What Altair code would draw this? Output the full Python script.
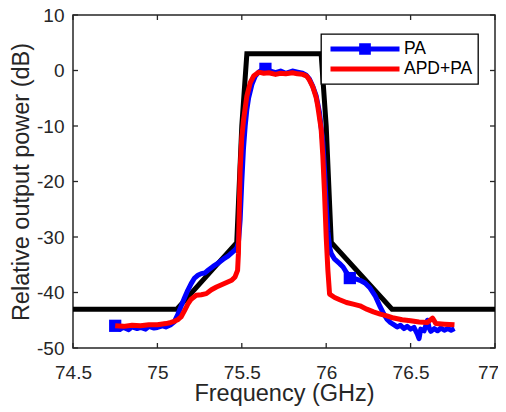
import altair as alt
import pandas as pd

# ---------------- data ----------------
series_names = ["PA", "APD+PA"]
series_colors = ["#0000FF", "#FF0000"]

x_ticks = [74.5, 75, 75.5, 76, 76.5, 77]
y_ticks = [-50, -40, -30, -20, -10, 0, 10]

mask_f = [74.5, 75.115, 75.47, 75.5, 75.53, 75.97, 76.0, 76.03, 76.39, 77.0]
mask_db = [-43, -43, -31, -10, 3, 3, -10, -31, -43, -43]

pa_f = [74.75, 74.78, 74.8, 74.83, 74.85, 74.88, 74.9, 74.93, 74.95, 74.98, 75.0, 75.03,
        75.05, 75.08, 75.1, 75.12, 75.14, 75.16, 75.18, 75.2, 75.22, 75.24, 75.26, 75.28,
        75.3, 75.33, 75.36, 75.39, 75.42, 75.45, 75.47, 75.48, 75.49, 75.5, 75.51, 75.52,
        75.53, 75.54, 75.56, 75.58, 75.6, 75.63, 75.66, 75.7, 75.73, 75.76, 75.8, 75.83,
        75.86, 75.88, 75.9, 75.92, 75.94, 75.96, 75.98, 75.99, 76.0, 76.01, 76.02, 76.03,
        76.05, 76.08, 76.1, 76.12, 76.14, 76.17, 76.2, 76.23, 76.26, 76.29, 76.32, 76.34,
        76.36, 76.38, 76.4, 76.42, 76.44, 76.46, 76.48, 76.5, 76.52, 76.54, 76.55, 76.56,
        76.58, 76.6, 76.61, 76.62, 76.64, 76.66, 76.68, 76.7, 76.72, 76.74, 76.76]
pa_db = [-46.2, -46.6, -46.3, -46.7, -46.2, -46.5, -46.3, -46.6, -46.1, -46.4, -46.3, -46.0,
         -46.2, -45.8, -45.3, -44.0, -42.5, -41.0, -39.6, -38.4, -37.4, -36.9, -36.6, -36.5,
         -36.0, -35.3, -34.7, -34.0, -33.4, -32.6, -32.0, -31.0, -27.0, -20.0, -14.0, -10.0,
         -7.0, -5.0, -2.5, -1.0, -0.3, 0.3, 0.0, -0.4, -0.1, -0.5, -0.1, -0.3,
         -0.5, -0.8, -1.5, -2.8, -4.5, -7.5, -13.0, -18.0, -24.0, -29.0, -31.8, -33.0,
         -34.0, -34.8, -35.4, -36.4, -37.3, -37.5, -37.8, -38.3, -39.2, -40.6, -42.6, -43.8,
         -44.8, -45.4, -45.8, -46.2, -45.9, -46.5, -46.1, -46.6, -46.3, -47.5, -48.3, -46.6,
         -46.9, -45.0, -46.4, -47.0, -46.5, -46.9, -46.4, -46.8, -46.5, -46.8, -46.5]

apd_f = [74.75, 74.8, 74.85, 74.9, 74.95, 75.0, 75.05, 75.08, 75.1, 75.12, 75.14, 75.16,
         75.18, 75.2, 75.23, 75.26, 75.29, 75.32, 75.35, 75.38, 75.41, 75.44, 75.46, 75.475,
         75.48, 75.485, 75.49, 75.5, 75.51, 75.53, 75.55, 75.57, 75.6, 75.63, 75.66, 75.7,
         75.73, 75.76, 75.8, 75.83, 75.86, 75.885, 75.9, 75.92, 75.94, 75.95, 75.97, 75.98,
         75.99, 76.0, 76.01, 76.02, 76.05, 76.08, 76.12, 76.16, 76.2, 76.24, 76.28, 76.32,
         76.36, 76.4, 76.45, 76.5, 76.55, 76.6, 76.63, 76.65, 76.7, 76.76]
apd_db = [-46.0, -46.1, -45.9, -46.0, -45.8, -45.8, -45.6, -45.4, -45.2, -44.9, -44.4, -43.3,
          -42.1, -41.2, -40.5, -40.4, -40.2, -39.5, -39.0, -38.6, -38.2, -37.8, -37.2, -36.0,
          -33.0, -25.0, -18.0, -12.0, -9.0, -4.6, -2.2, -1.0, -0.3, -0.5, -0.4, -0.7,
          -0.5, -0.6, -0.4, -0.6, -0.7, -1.0, -1.7, -2.9, -4.8, -6.4, -10.5, -15.4,
          -22.0, -30.0, -36.0, -40.3, -40.9, -41.3, -41.8, -42.1, -42.4, -43.0, -43.5, -43.9,
          -44.2, -44.6, -44.9, -45.1, -45.3, -45.4, -44.6, -45.6, -45.7, -45.8]

marker_f = [74.75, 75.64, 76.14]
marker_db = [-46.0, 0.3, -37.4]

# ---------------- tables ----------------
mask_df = pd.DataFrame({"f": mask_f, "db": mask_db})
pa_df = pd.DataFrame({"f": pa_f, "db": pa_db, "series": series_names[0]})
apd_df = pd.DataFrame({"f": apd_f, "db": apd_db, "series": series_names[1]})
mk_df = pd.DataFrame({"f": marker_f, "db": marker_db, "series": series_names[0]})
xt_df = pd.DataFrame({"v": x_ticks})
yt_df = pd.DataFrame({"v": y_ticks})

W, H = 422, 333
FONT = "Liberation Sans"
AX = "#262626"

xs = alt.Scale(domain=[74.5, 77], nice=False, zero=False)
ys = alt.Scale(domain=[-50, 10], nice=False, zero=False)
cs = alt.Scale(domain=series_names, range=series_colors)

pa_path = "M-1.03,0H1.03M-0.1,-0.1H0.1V0.1H-0.1Z"
line_path = "M-1.03,0H1.03"
ss = alt.Scale(domain=series_names, range=[pa_path, line_path])

x_axis = alt.Axis(values=x_ticks, labelExpr="'' + datum.value", ticks=False, tickSize=0,
                  domain=False, grid=False, labelFontSize=19, labelPadding=15,
                  labelColor=AX, labelFont=FONT, labelOverlap=False, labelFlush=False,
                  labelBound=False,
                  labelOffset={"condition": {"test": "datum.value == 77", "value": -7}, "value": 0},
                  title="Frequency (GHz)", titleFontSize=23.5, titleFontWeight="normal",
                  titleColor=AX, titleFont=FONT, titleX=W / 2, titleY=52.7,
                  titleBaseline="alphabetic", titleAlign="center")
y_axis = alt.Axis(values=y_ticks, labelExpr="'' + datum.value", ticks=False, tickSize=0,
                  domain=False, grid=False, labelFontSize=19, labelPadding=9,
                  labelColor=AX, labelFont=FONT, labelOverlap=False, labelFlush=False,
                  labelBound=False,
                  title="Relative output power (dB)", titleFontSize=23.5,
                  titleFontWeight="normal", titleColor=AX, titleFont=FONT,
                  titleX=-45, titleY=H / 2, titleAngle=-90,
                  titleBaseline="alphabetic", titleAlign="center")

mask = alt.Chart(mask_df).mark_line(color="#000000", strokeWidth=5, strokeJoin="miter").encode(
    x=alt.X("f:Q", scale=xs, axis=x_axis),
    y=alt.Y("db:Q", scale=ys, axis=y_axis),
)

pa_line = alt.Chart(pa_df).mark_line(strokeWidth=5, strokeJoin="round", color=series_colors[0]).encode(
    x=alt.X("f:Q", scale=xs), y=alt.Y("db:Q", scale=ys),
)

pa_marks = alt.Chart(mk_df).mark_square(size=150, opacity=1, filled=True, color=series_colors[0]).encode(
    x=alt.X("f:Q", scale=xs), y=alt.Y("db:Q", scale=ys),
)

apd_line = alt.Chart(apd_df).mark_line(strokeWidth=5, strokeJoin="round", color=series_colors[1]).encode(
    x=alt.X("f:Q", scale=xs), y=alt.Y("db:Q", scale=ys),
)

leg = alt.Legend(
    title=None, orient="none", legendX=248, legendY=19, direction="vertical",
    symbolSize=4489, symbolStrokeWidth=5, clipHeight=20, rowPadding=0, padding=5,
    symbolOffset=3, labelOffset=3, labelFontSize=17.5, labelColor="#000000",
    labelFont=FONT, strokeColor="#000000", fillColor="white")

legend_layer = alt.Chart(pa_df).mark_point(filled=False, opacity=1, strokeWidth=5, size=4489).encode(
    x=alt.X("f:Q", scale=xs), y=alt.Y("db:Q", scale=ys),
    color=alt.Color("series:N", scale=cs, legend=leg),
    shape=alt.Shape("series:N", scale=ss, legend=leg),
).transform_filter("false")

tick_style = dict(color=AX, strokeWidth=1.3)
t_bottom = alt.Chart(xt_df).mark_rule(**tick_style).encode(
    x=alt.X("v:Q", scale=xs), y=alt.value(H), y2=alt.value(H - 5))
t_top = alt.Chart(xt_df).mark_rule(**tick_style).encode(
    x=alt.X("v:Q", scale=xs), y=alt.value(0), y2=alt.value(5))
t_left = alt.Chart(yt_df).mark_rule(**tick_style).encode(
    y=alt.Y("v:Q", scale=ys), x=alt.value(0), x2=alt.value(5))
t_right = alt.Chart(yt_df).mark_rule(**tick_style).encode(
    y=alt.Y("v:Q", scale=ys), x=alt.value(W), x2=alt.value(W - 5))

chart = alt.layer(
    mask, pa_line, pa_marks, apd_line, t_bottom, t_top, t_left, t_right, legend_layer
).properties(
    width=W, height=H,
    autosize=alt.AutoSizeParams(type="none"),
    padding={"left": 65, "top": 7, "right": 3, "bottom": 60},
    background="white",
).configure_view(
    stroke=AX, strokeWidth=1.5
).configure_legend(
    strokeWidth=1.3
)

chart.save("out.html", embed_options={"renderer": "svg", "actions": False})
